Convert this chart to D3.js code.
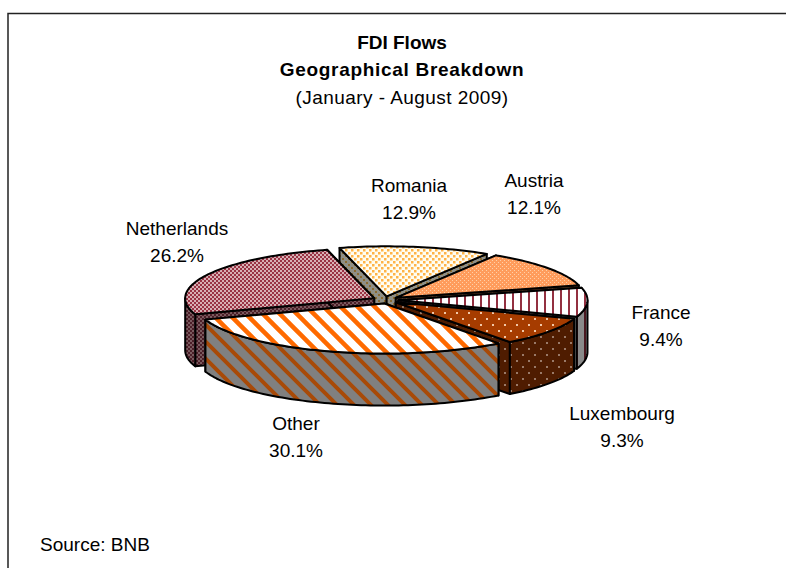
<!DOCTYPE html>
<html>
<head>
<meta charset="utf-8">
<script src="https://cdn.jsdelivr.net/npm/d3@7"></script>
<style>
html, body { margin: 0; padding: 0; background: #fff; }
svg { display: block; }
text { font-family: "Liberation Sans", Arial, sans-serif; fill: #000; }
</style>
</head>
<body>
<div id="chart"></div>
<script>
const categories = ['Austria', 'France', 'Luxembourg', 'Other', 'Netherlands', 'Romania'];
const shares = [12.1, 9.4, 9.3, 30.1, 26.2, 12.9];
const titleLines = ['FDI Flows', 'Geographical Breakdown', '(January - August 2009)'];
const sourceText = 'Source: BNB';

const width = 786, height = 568;
const cx = 384.5, cy = 300;
const rx = 189, ry = 50, depth = 52, explode = 14;
const startDeg = 32;

const svg = d3.select('#chart').append('svg')
    .attr('width', width)
    .attr('height', height);

const defs = svg.append('defs');

// Excel-style hatch fills, one pattern for the top and one for the wall
function pattern(id, w, h, bg, shapes) {
    const p = defs.append('pattern')
        .attr('id', id)
        .attr('patternUnits', 'userSpaceOnUse')
        .attr('width', w)
        .attr('height', h);
    p.append('rect').attr('width', w).attr('height', h).attr('fill', bg);
    shapes.forEach(s => p.append('rect')
        .attr('x', s[0]).attr('y', s[1]).attr('width', s[2]).attr('height', s[3]).attr('fill', s[4]));
}
function stripes(id, size, bg, fg, sw) {
    const p = defs.append('pattern')
        .attr('id', id)
        .attr('patternUnits', 'userSpaceOnUse')
        .attr('width', size)
        .attr('height', size);
    p.append('rect').attr('width', size).attr('height', size).attr('fill', bg);
    p.append('path')
        .attr('d', `M${-size},${-size}L${2 * size},${2 * size}M${-size},0L${size},${2 * size}M0,${-size}L${2 * size},${size}`)
        .attr('stroke', fg)
        .attr('stroke-width', sw);
}
function dots(id, bg, fg, w, dot) {
    pattern(id, w, w, bg, [[0, 0, dot, dot, fg], [w / 2, w / 2, dot, dot, fg]]);
}

pattern('nlTop', 4, 4, '#d8b0b4', [[0, 0, 2, 2, '#993344'], [2, 2, 2, 2, '#993344']]);
pattern('nlWall', 4, 4, '#7a5a5e', [[0, 0, 2, 2, '#4c1f28'], [2, 2, 2, 2, '#4c1f28']]);
dots('roTop', '#fffdf2', '#ffb347', 6, 2.5);
dots('roWall', '#8f8f86', '#8a6a30', 6, 2);
dots('atTop', '#ff9c5c', '#ffd0a8', 4, 1);
dots('atWall', '#804e2e', '#a08060', 4, 1);
pattern('frTop', 8, 8, '#ffffff', [[0, 0, 2, 8, '#933040']]);
pattern('frWall', 8, 8, '#8a8a8a', [[0, 0, 2, 8, '#4a1820']]);
dots('luTop', '#a63c00', '#f2c8a8', 12, 2);
dots('luWall', '#4f1c00', '#9a7a68', 12, 2);
stripes('otTop', 17, '#ffffff', '#ff6a00', 4.5);
stripes('otWall', 17, '#808080', '#a84a08', 4);

const fills = {
    Austria: ['atTop', 'atWall'],
    France: ['frTop', 'frWall'],
    Luxembourg: ['luTop', 'luWall'],
    Other: ['otTop', 'otWall'],
    Netherlands: ['nlTop', 'nlWall'],
    Romania: ['roTop', 'roWall']
};

// small shift on top of the explode so the cut edges line up with the picture
const nudge = { Other: [4, 0], Netherlands: [2, 0] };

// back to front
const drawOrder = ['Romania', 'Austria', 'Netherlands', 'France', 'Luxembourg', 'Other'];

const pie = d3.pie().sort(null).startAngle(startDeg * Math.PI / 180)
    .endAngle((startDeg + 360) * Math.PI / 180);
const arcs = pie(shares);

const sx = d3.scaleLinear().domain([-1, 1]).range([-rx, rx]);
const sy = d3.scaleLinear().domain([-1, 1]).range([-ry, ry]);
const line = d3.line();

function rim(a, ox, oy, dz) {
    return [ox + sx(Math.sin(a)), oy + sy(-Math.cos(a)) + dz];
}
function arcPoints(a0, a1, ox, oy, dz) {
    const n = Math.max(2, Math.ceil(Math.abs(a1 - a0) * 40));
    return d3.range(n + 1).map(i => rim(a0 + (a1 - a0) * i / n, ox, oy, dz));
}

const g = svg.append('g');

function face(parent, pts, fill) {
    parent.append('path')
        .attr('d', line(pts) + 'Z')
        .attr('fill', `url(#${fill})`)
        .attr('stroke', '#000')
        .attr('stroke-width', 2)
        .attr('stroke-linejoin', 'round');
}

drawOrder.forEach(name => {
    const d = arcs[categories.indexOf(name)];
    const mid = (d.startAngle + d.endAngle) / 2;
    const shift = nudge[name] || [0, 0];
    const ox = cx + shift[0] + sx(Math.sin(mid) * explode / rx);
    const oy = cy + shift[1] + sy(-Math.cos(mid) * explode / rx);
    const [topFill, wallFill] = fills[name];
    const piece = g.append('g').attr('class', 'slice');

    // cut faces
    [d.startAngle, d.endAngle].forEach(a => {
        face(piece, [[ox, oy], rim(a, ox, oy, 0), rim(a, ox, oy, depth), [ox, oy + depth]], wallFill);
    });

    // outer wall, only the front half of the rim can be seen
    const half = Math.PI / 2;
    [[half, 3 * half], [half + 2 * Math.PI, 3 * half + 2 * Math.PI]].forEach(([lo, hi]) => {
        const a0 = Math.max(d.startAngle, lo), a1 = Math.min(d.endAngle, hi);
        if (a1 <= a0) return;
        face(piece, arcPoints(a0, a1, ox, oy, 0).concat(arcPoints(a1, a0, ox, oy, depth)), wallFill);
    });

    // top
    face(piece, [[ox, oy]].concat(arcPoints(d.startAngle, d.endAngle, ox, oy, 0)), topFill);
});

// frame runs past the right and bottom edge of the picture
svg.append('rect')
    .attr('x', 8).attr('y', 13.5)
    .attr('width', 800).attr('height', 600)
    .attr('fill', 'none')
    .attr('stroke', '#222')
    .attr('stroke-width', 1.5);

const titleSpacing = [0, 0.7, 0.45];
titleLines.forEach((t, i) => {
    svg.append('text')
        .attr('x', 402)
        .attr('y', [49, 76, 104][i])
        .attr('text-anchor', 'middle')
        .attr('font-size', 19)
        .attr('font-weight', i < 2 ? 'bold' : 'normal')
        .attr('letter-spacing', titleSpacing[i])
        .text(t);
});

// data labels sit at fixed spots around the pie
const labelPos = {
    Austria: [534, 187],
    France: [661, 319],
    Luxembourg: [622, 420],
    Other: [296, 430],
    Netherlands: [177, 235],
    Romania: [409, 192]
};
categories.forEach((c, i) => {
    const [x, y] = labelPos[c];
    const t = svg.append('text').attr('text-anchor', 'middle').attr('font-size', 19);
    t.append('tspan').attr('x', x).attr('y', y).text(c);
    t.append('tspan').attr('x', x).attr('y', y + 27).text(d3.format('.1f')(shares[i]) + '%');
});

svg.append('text')
    .attr('x', 40).attr('y', 551)
    .attr('font-size', 19)
    .text(sourceText);
</script>
</body>
</html>
